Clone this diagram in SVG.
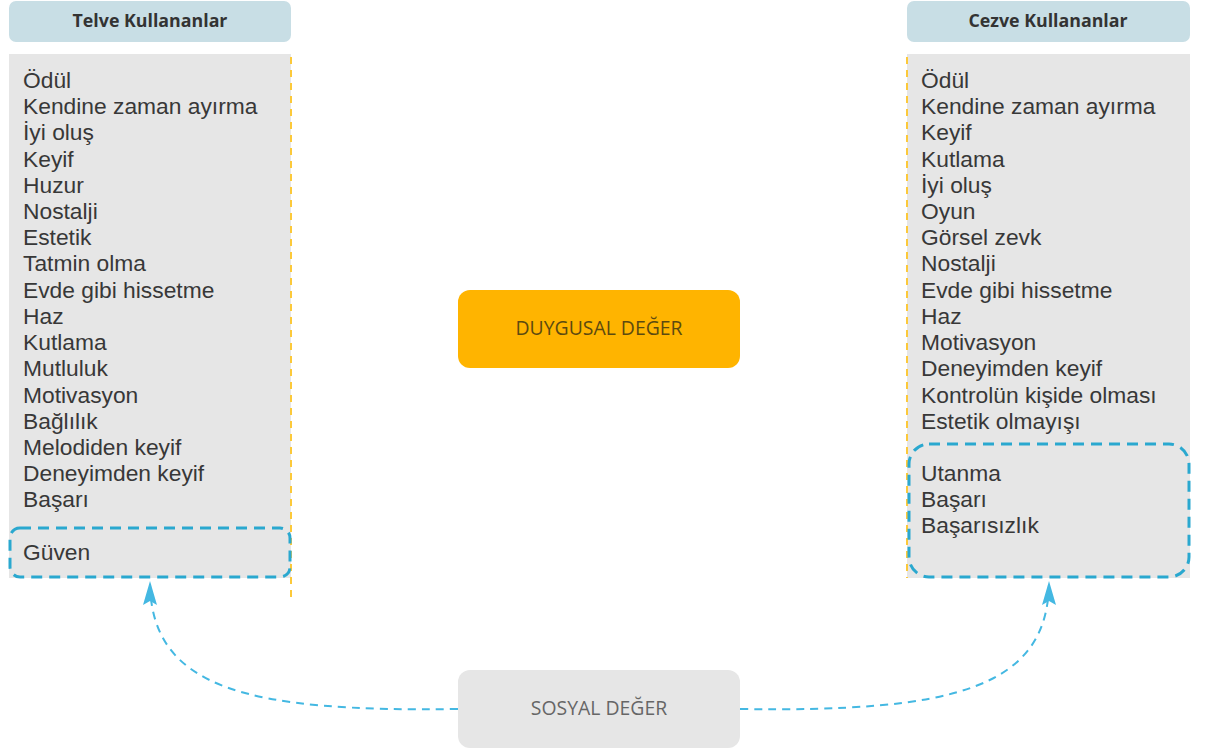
<svg xmlns="http://www.w3.org/2000/svg" width="1211" height="753" viewBox="0 0 1211 753">
  <style>
    .hdr { fill: #c8dee5; }
    .hdr-t { font-family: "Open Sans", "Liberation Sans", sans-serif; font-weight: bold; font-size: 17.8px; fill: #333333; text-anchor: middle; }
    .panel { fill: #e6e6e6; }
    .item { font-family: "Liberation Sans", Arial, sans-serif; font-size: 22.8px; fill: #383838; }
    .edge-y { stroke: #fcc93a; stroke-width: 2; stroke-dasharray: 7 6; fill: none; }
    .group { fill: none; stroke: #2aa8cf; stroke-width: 3; stroke-dasharray: 11 7; }
    .val-t { font-family: "Open Sans", "Liberation Sans", sans-serif; font-size: 19.4px; text-anchor: middle; }
    .link { fill: none; stroke: #44b8e2; stroke-width: 2; stroke-dasharray: 8 6; }
  </style>
  <defs>
    <marker id="arrow" viewBox="0 0 24 14" refX="24" refY="7" markerWidth="24" markerHeight="14" markerUnits="userSpaceOnUse" orient="auto">
      <path d="M24,7 L0,0 L4,7 L0,14 Z" fill="#44b8e2"/>
    </marker>
  </defs>
  <rect width="1211" height="753" fill="#ffffff"/>

  <!-- Telve users -->
  <g id="telve">
    <rect class="hdr" x="9" y="1" width="282" height="41" rx="7"/>
    <text class="hdr-t" x="150" y="27">Telve Kullananlar</text>
    <rect class="panel" x="9" y="54" width="282" height="524"/>
    <line class="edge-y" x1="291" y1="57" x2="291" y2="603"/>
    <g class="item">
      <text x="23" y="88">Ödül</text>
      <text x="23" y="114">Kendine zaman ayırma</text>
      <text x="23" y="140">İyi oluş</text>
      <text x="23" y="167">Keyif</text>
      <text x="23" y="193">Huzur</text>
      <text x="23" y="219">Nostalji</text>
      <text x="23" y="245">Estetik</text>
      <text x="23" y="271">Tatmin olma</text>
      <text x="23" y="298">Evde gibi hissetme</text>
      <text x="23" y="324">Haz</text>
      <text x="23" y="350">Kutlama</text>
      <text x="23" y="376">Mutluluk</text>
      <text x="23" y="403">Motivasyon</text>
      <text x="23" y="429">Bağlılık</text>
      <text x="23" y="455">Melodiden keyif</text>
      <text x="23" y="481">Deneyimden keyif</text>
      <text x="23" y="507">Başarı</text>
      <text x="23" y="560">Güven</text>
    </g>
    <rect class="group" x="10" y="528" width="280" height="49" rx="10"/>
  </g>

  <!-- Cezve users -->
  <g id="cezve">
    <rect class="hdr" x="907" y="1" width="283" height="41" rx="7"/>
    <text class="hdr-t" x="1048" y="27">Cezve Kullananlar</text>
    <rect class="panel" x="907" y="54" width="283" height="524"/>
    <line class="edge-y" x1="907" y1="57" x2="907" y2="578"/>
    <g class="item">
      <text x="921" y="88">Ödül</text>
      <text x="921" y="114">Kendine zaman ayırma</text>
      <text x="921" y="140">Keyif</text>
      <text x="921" y="167">Kutlama</text>
      <text x="921" y="193">İyi oluş</text>
      <text x="921" y="219">Oyun</text>
      <text x="921" y="245">Görsel zevk</text>
      <text x="921" y="271">Nostalji</text>
      <text x="921" y="298">Evde gibi hissetme</text>
      <text x="921" y="324">Haz</text>
      <text x="921" y="350">Motivasyon</text>
      <text x="921" y="376">Deneyimden keyif</text>
      <text x="921" y="403">Kontrolün kişide olması</text>
      <text x="921" y="429">Estetik olmayışı</text>
      <text x="921" y="481">Utanma</text>
      <text x="921" y="507">Başarı</text>
      <text x="921" y="533">Başarısızlık</text>
    </g>
    <rect class="group" x="909" y="444" width="280" height="133" rx="20"/>
  </g>

  <!-- Emotional value -->
  <g id="duygusal">
    <rect x="458" y="290" width="282" height="78" rx="12" fill="#ffb400"/>
    <text class="val-t" x="599" y="335" fill="#5c4a10">DUYGUSAL DEĞER</text>
  </g>

  <!-- Social value -->
  <g id="sosyal">
    <rect x="458" y="670" width="282" height="78" rx="12" fill="#e6e6e6"/>
    <text class="val-t" x="599" y="715" fill="#666666">SOSYAL DEĞER</text>
  </g>

  <!-- Connectors -->
  <g id="connectors">
    <path class="link" d="M458,709 C250,712 150,690 150,581" marker-end="url(#arrow)"/>
    <path class="link" d="M740,709 C950,712 1049,690 1049,581" marker-end="url(#arrow)"/>
  </g>
</svg>
